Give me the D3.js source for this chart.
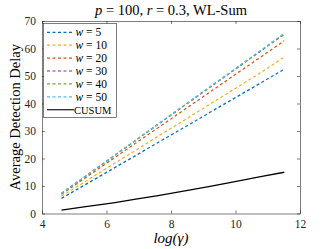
<!DOCTYPE html>
<html>
<head>
<meta charset="utf-8">
<script src="https://cdn.jsdelivr.net/npm/d3@7"></script>
<style>
body { margin: 0; background: #fff; }
svg { font-family: "Liberation Serif", "DejaVu Serif", serif; }
.axis path, .axis line { stroke: #262626; }
.axis text { fill: #262626; font-size: 11.5px; font-family: "Liberation Serif", "DejaVu Serif", serif; }
</style>
</head>
<body>
<script>
// log(gamma) values
var logGamma = [4.605, 5.298, 6.215, 6.908, 7.601, 8.517, 9.210, 9.903, 10.820, 11.513];

var w5 = [5.5, 10.2, 16.4, 21.1, 25.8, 32.0, 36.8, 41.5, 47.7, 52.5];
var w10 = [6.3, 11.3, 18.0, 23.0, 28.1, 34.7, 39.8, 44.8, 51.5, 56.9];
var w20 = [7.0, 12.6, 20.0, 25.6, 31.2, 38.6, 44.2, 49.8, 57.2, 62.8];
var w30 = [7.3, 13.1, 20.8, 26.6, 32.4, 40.1, 45.9, 51.7, 59.4, 65.2];
var w40 = [7.3, 13.1, 20.8, 26.6, 32.5, 40.2, 46.0, 51.8, 59.5, 65.3];
var w50 = [7.4, 13.2, 20.9, 26.7, 32.5, 40.3, 46.1, 51.9, 59.6, 65.5];
var cusum = [1.2, 2.4, 3.9, 5.2, 6.5, 8.4, 9.9, 11.4, 13.5, 15.0];

var seriesNames = ["5", "10", "20", "30", "40", "50"];
var seriesColors = ["#0072BD", "#EDB120", "#D95319", "#7E2F8E", "#77AC30", "#4DBEEE"];
var seriesValues = [w5, w10, w20, w30, w40, w50];

var xTicks = [4, 6, 8, 10, 12];
var yTicks = [0, 10, 20, 30, 40, 50, 60, 70];

var w = 332, h = 249;
var mLeft = 42, mRight = 300, mTop = 21, mBottom = 213.5;

var svg = d3.select("body").append("svg")
    .attr("width", w)
    .attr("height", h);

var xScale = d3.scaleLinear().domain([4, 12]).range([mLeft, mRight]);
var yScale = d3.scaleLinear().domain([0, 70]).range([mBottom, mTop]);

// axes, ticks inward on all four sides
svg.append("g").attr("class", "axis")
    .attr("transform", "translate(0," + mBottom + ")")
    .call(d3.axisBottom(xScale).tickValues(xTicks).tickSizeInner(-3).tickSizeOuter(0).tickPadding(6));
svg.append("g").attr("class", "axis")
    .attr("transform", "translate(0," + mTop + ")")
    .call(d3.axisTop(xScale).tickValues(xTicks).tickSizeInner(-3).tickSizeOuter(0).tickFormat(""));
svg.append("g").attr("class", "axis")
    .attr("transform", "translate(" + mLeft + ",0)")
    .call(d3.axisLeft(yScale).tickValues(yTicks).tickSizeInner(-3).tickSizeOuter(0).tickPadding(6));
svg.append("g").attr("class", "axis")
    .attr("transform", "translate(" + mRight + ",0)")
    .call(d3.axisRight(yScale).tickValues(yTicks).tickSizeInner(-3).tickSizeOuter(0).tickFormat(""));

svg.selectAll(".axis path").attr("stroke-width", 0.6);
svg.selectAll(".axis line").attr("stroke-width", 0.6);

var line = d3.line()
    .x(function (d, i) { return xScale(logGamma[i]); })
    .y(function (d) { return yScale(d); });

seriesValues.forEach(function (vals, k) {
    svg.append("path")
        .datum(vals)
        .attr("fill", "none")
        .attr("stroke", seriesColors[k])
        .attr("stroke-width", 1.2)
        .attr("stroke-dasharray", "3,2.5")
        .attr("d", line);
});

svg.append("path")
    .datum(cusum)
    .attr("fill", "none")
    .attr("stroke", "#000")
    .attr("stroke-width", 1.3)
    .attr("d", line);

// title
var title = svg.append("text")
    .attr("x", 171).attr("y", 15)
    .attr("text-anchor", "middle")
    .attr("font-size", "14.5px")
    .attr("fill", "#000");
title.append("tspan").attr("font-style", "italic").text("p");
title.append("tspan").text(" = 100, ");
title.append("tspan").attr("font-style", "italic").text("r");
title.append("tspan").text(" = 0.3, WL-Sum");

// axis labels
svg.append("text")
    .attr("transform", "translate(20," + ((mTop + mBottom) / 2) + ") rotate(-90)")
    .attr("text-anchor", "middle")
    .attr("font-size", "14.5px")
    .text("Average Detection Delay");

svg.append("text")
    .attr("x", (mLeft + mRight) / 2).attr("y", 243)
    .attr("text-anchor", "middle")
    .attr("font-size", "15px")
    .attr("font-style", "italic")
    .text("log(γ)");

// legend
var lg = svg.append("g");
lg.append("rect")
    .attr("x", 43.5).attr("y", 23.5)
    .attr("width", 73).attr("height", 94)
    .attr("fill", "#fff")
    .attr("stroke", "#262626")
    .attr("stroke-width", 0.6);

var rowY = function (i) { return 32.3 + i * 12.9; };

seriesNames.forEach(function (name, i) {
    lg.append("line")
        .attr("x1", 47).attr("x2", 72)
        .attr("y1", rowY(i)).attr("y2", rowY(i))
        .attr("stroke", seriesColors[i])
        .attr("stroke-width", 1.2)
        .attr("stroke-dasharray", "3,2.5");
    var t = lg.append("text")
        .attr("x", 75.5).attr("y", rowY(i) + 3.8)
        .attr("font-size", "11.5px");
    t.append("tspan").attr("font-style", "italic").text("w");
    t.append("tspan").text(" = " + name);
});

lg.append("line")
    .attr("x1", 47).attr("x2", 74)
    .attr("y1", rowY(6)).attr("y2", rowY(6))
    .attr("stroke", "#262626")
    .attr("stroke-width", 1.3);
lg.append("text")
    .attr("x", 74).attr("y", rowY(6) + 3.8)
    .attr("font-size", "10.5px")
    .text("CUSUM");
</script>
</body>
</html>
